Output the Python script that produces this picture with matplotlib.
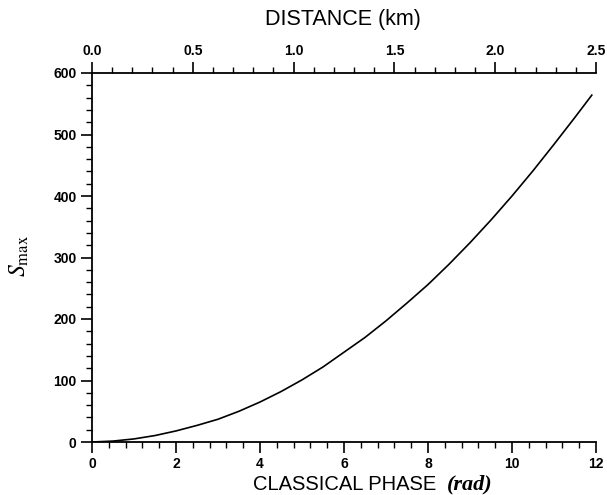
import matplotlib
matplotlib.use("Agg")
import matplotlib.pyplot as plt
from matplotlib.ticker import MultipleLocator, FormatStrFormatter
from matplotlib.font_manager import FontProperties

# Data
phase = [0, 0.5, 1, 1.5, 2, 2.5, 3, 3.5, 4, 4.5, 5, 5.5, 6, 6.5, 7, 7.5, 8,
         8.5, 9, 9.5, 10, 10.5, 11, 11.5, 11.9]
smax = [0, 1.5, 5, 10.5, 18, 27, 37, 50, 65, 82, 101, 122, 146, 170, 197,
        226, 256, 289, 324, 361, 400, 441, 484, 528, 564]
x_ticks = [0, 2, 4, 6, 8, 10, 12]
y_ticks = [0, 100, 200, 300, 400, 500, 600]
km_ticks = [0.0, 0.5, 1.0, 1.5, 2.0, 2.5]

matplotlib.rcParams["mathtext.fontset"] = "stix"

W, H = 607, 495
fig = plt.figure(figsize=(W / 100, H / 100), dpi=100)
L, R, B, T = 92, 596, 442, 73
ax = fig.add_axes([L / W, 1 - B / H, (R - L) / W, (B - T) / H])

ax.plot(phase, smax, color="black", lw=1.2)
ax.set_xlim(0, 12)
ax.set_ylim(0, 600)
ax.set_xticks(x_ticks)
ax.set_yticks(y_ticks)
ax.xaxis.set_minor_locator(MultipleLocator(0.4))
ax.yaxis.set_minor_locator(MultipleLocator(20))
ax.spines["right"].set_visible(False)
ax.spines["top"].set_visible(False)
for s in ("left", "bottom"):
    ax.spines[s].set_linewidth(1.3)

tickfont = dict(family="Liberation Sans", weight="bold", size=10)
ax.tick_params(which="major", direction="out", length=8, width=1.2, pad=3)
ax.tick_params(which="minor", direction="out", length=4, width=1.0)
for lab in ax.get_xticklabels() + ax.get_yticklabels():
    lab.set_fontproperties(FontProperties(**tickfont))

# top axis (distance)
ax2 = ax.twiny()
ax2.set_xlim(km_ticks[0], km_ticks[-1])
ax2.set_xticks(km_ticks)
ax2.xaxis.set_major_formatter(FormatStrFormatter("%.1f"))
ax2.xaxis.set_minor_locator(MultipleLocator(0.1))
for s in ("left", "right", "bottom"):
    ax2.spines[s].set_visible(False)
ax2.spines["top"].set_linewidth(1.3)
ax2.tick_params(which="major", direction="out", length=8, width=1.2, pad=3)
ax2.tick_params(which="minor", direction="out", length=4, width=1.0)
for lab in ax2.get_xticklabels():
    lab.set_fontproperties(FontProperties(**tickfont))

# titles / labels
fig.text(343 / W, 1 - 20 / H, "DISTANCE (km)", ha="center", va="center",
         family="Liberation Sans", fontsize=15.5)

t1 = fig.text(253 / W, 1 - 485 / H, "CLASSICAL PHASE", ha="left", va="center",
              family="Liberation Sans", fontsize=14.5)
ax.annotate("(rad)", xy=(1, 0), xycoords=t1, xytext=(8, 0),
            textcoords="offset points", ha="left", va="bottom",
            family="Liberation Serif", style="italic", weight="bold",
            fontsize=16, annotation_clip=False)

fig.text(19 / W, 1 - 256 / H, r"$S_{\mathrm{max}}$", rotation=90, ha="center",
         va="center", fontsize=17)

fig.savefig("out.png", dpi=100)
